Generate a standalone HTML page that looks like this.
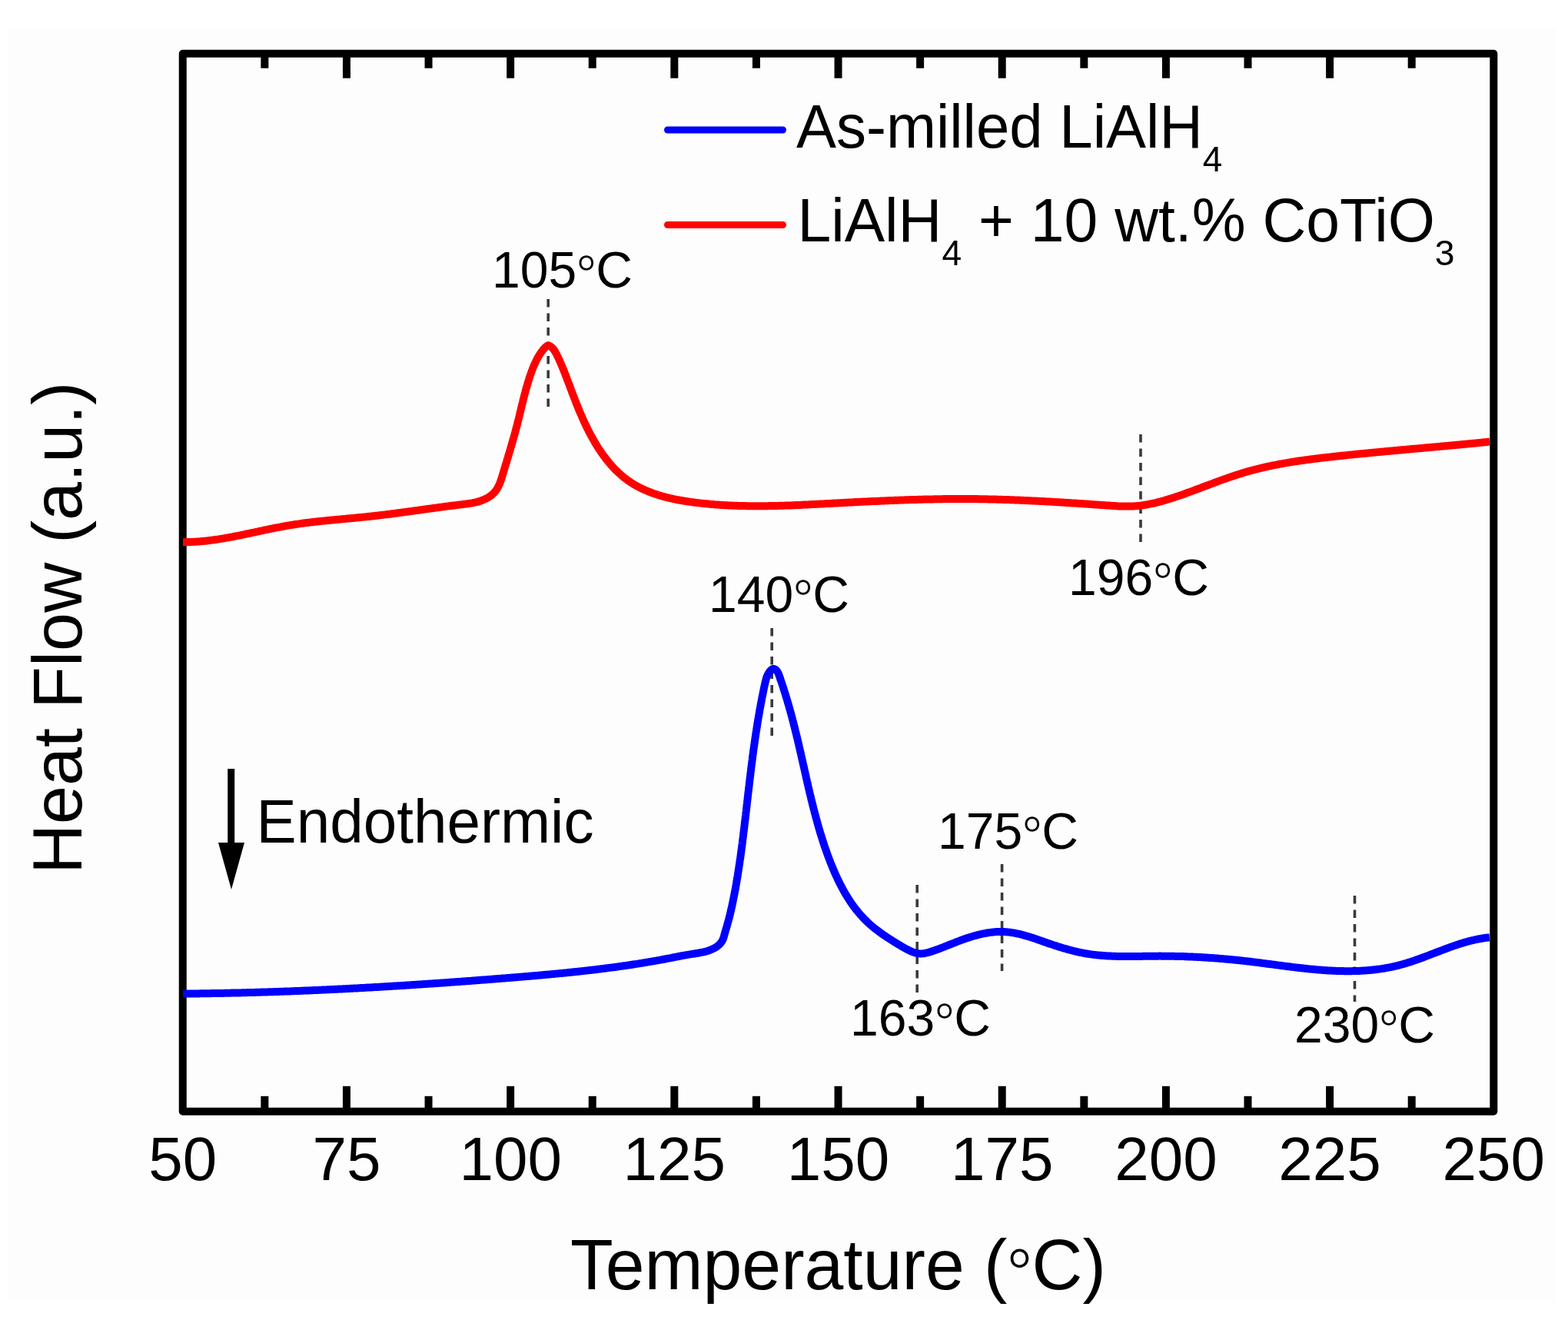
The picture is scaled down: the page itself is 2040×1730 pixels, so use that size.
<!DOCTYPE html>
<html><head><meta charset="utf-8"><title>DSC curves</title><style>
html,body{margin:0;padding:0;background:#fff;}
body{width:2040px;height:1730px;overflow:hidden;}
svg{display:block;}
text{font-family:"Liberation Sans",Arial,sans-serif;fill:#000;}
.dg{font-family:"Noto Sans CJK JP","Liberation Sans",sans-serif;font-weight:300;}
</style></head><body>
<svg width="2040" height="1730" viewBox="0 0 2040 1730" xmlns="http://www.w3.org/2000/svg">
<rect x="0" y="0" width="2040" height="1730" fill="#ffffff"/>
<rect x="11" y="37" width="2013" height="1655" fill="#fdfdfd"/>
<g stroke="#000" stroke-width="10" fill="none">
<rect x="237.75" y="69.7" width="1705.55" height="1376.10" stroke-linejoin="round"/>
<line x1="344.35" y1="69.7" x2="344.35" y2="88.7"/><line x1="344.35" y1="1445.8" x2="344.35" y2="1425.8"/><line x1="450.94" y1="69.7" x2="450.94" y2="101.7"/><line x1="450.94" y1="1445.8" x2="450.94" y2="1412.8"/><line x1="557.54" y1="69.7" x2="557.54" y2="88.7"/><line x1="557.54" y1="1445.8" x2="557.54" y2="1425.8"/><line x1="664.14" y1="69.7" x2="664.14" y2="101.7"/><line x1="664.14" y1="1445.8" x2="664.14" y2="1412.8"/><line x1="770.73" y1="69.7" x2="770.73" y2="88.7"/><line x1="770.73" y1="1445.8" x2="770.73" y2="1425.8"/><line x1="877.33" y1="69.7" x2="877.33" y2="101.7"/><line x1="877.33" y1="1445.8" x2="877.33" y2="1412.8"/><line x1="983.93" y1="69.7" x2="983.93" y2="88.7"/><line x1="983.93" y1="1445.8" x2="983.93" y2="1425.8"/><line x1="1090.53" y1="69.7" x2="1090.53" y2="101.7"/><line x1="1090.53" y1="1445.8" x2="1090.53" y2="1412.8"/><line x1="1197.12" y1="69.7" x2="1197.12" y2="88.7"/><line x1="1197.12" y1="1445.8" x2="1197.12" y2="1425.8"/><line x1="1303.72" y1="69.7" x2="1303.72" y2="101.7"/><line x1="1303.72" y1="1445.8" x2="1303.72" y2="1412.8"/><line x1="1410.32" y1="69.7" x2="1410.32" y2="88.7"/><line x1="1410.32" y1="1445.8" x2="1410.32" y2="1425.8"/><line x1="1516.91" y1="69.7" x2="1516.91" y2="101.7"/><line x1="1516.91" y1="1445.8" x2="1516.91" y2="1412.8"/><line x1="1623.51" y1="69.7" x2="1623.51" y2="88.7"/><line x1="1623.51" y1="1445.8" x2="1623.51" y2="1425.8"/><line x1="1730.11" y1="69.7" x2="1730.11" y2="101.7"/><line x1="1730.11" y1="1445.8" x2="1730.11" y2="1412.8"/><line x1="1836.70" y1="69.7" x2="1836.70" y2="88.7"/><line x1="1836.70" y1="1445.8" x2="1836.70" y2="1425.8"/>
</g>
<g stroke="#3a3a3a" stroke-width="3.6" stroke-dasharray="10.5 8" fill="none"><line x1="713.2" y1="389.0" x2="713.2" y2="529.0"/><line x1="1484.0" y1="565.0" x2="1484.0" y2="705.0"/><line x1="1004.2" y1="817.0" x2="1004.2" y2="957.0"/><line x1="1193.2" y1="1151.0" x2="1193.2" y2="1291.0"/><line x1="1303.6" y1="1124.0" x2="1303.6" y2="1263.0"/><line x1="1762.5" y1="1165.0" x2="1762.5" y2="1303.0"/></g>
<path d="M238.0,705.2 239.5,705.2 241.0,705.2 242.5,705.1 244.0,705.1 245.5,705.1 247.0,705.0 248.5,705.0 250.0,704.9 251.5,704.8 253.0,704.8 254.5,704.7 256.0,704.6 257.5,704.5 259.0,704.4 260.5,704.2 262.0,704.1 263.5,704.0 265.0,703.8 266.5,703.7 268.0,703.5 269.5,703.4 270.9,703.2 272.4,703.0 273.9,702.8 275.4,702.6 276.9,702.4 278.4,702.2 279.9,702.0 281.4,701.8 282.9,701.6 284.3,701.4 285.8,701.1 287.3,700.9 288.8,700.6 290.3,700.4 291.8,700.2 293.2,699.9 294.7,699.6 296.2,699.4 297.7,699.1 299.2,698.8 300.6,698.6 302.1,698.3 303.6,698.0 305.1,697.7 306.5,697.4 308.0,697.1 309.5,696.9 311.0,696.6 312.4,696.3 313.9,696.0 315.4,695.7 316.8,695.4 318.3,695.1 319.8,694.7 321.2,694.4 322.7,694.1 324.2,693.8 325.7,693.5 327.1,693.2 328.6,692.9 330.1,692.6 331.5,692.3 333.0,691.9 334.5,691.6 335.9,691.3 337.4,691.0 338.9,690.7 340.4,690.4 341.8,690.1 343.3,689.7 344.8,689.4 346.2,689.1 347.7,688.8 349.2,688.5 350.6,688.2 352.1,687.9 353.6,687.6 355.1,687.3 356.5,687.0 358.0,686.7 359.5,686.4 361.0,686.1 362.4,685.9 363.9,685.6 365.4,685.3 366.9,685.0 368.3,684.7 369.8,684.5 371.3,684.2 372.8,683.9 374.2,683.7 375.7,683.4 377.2,683.2 378.7,682.9 380.2,682.7 381.7,682.5 383.1,682.2 384.6,682.0 386.1,681.8 387.6,681.6 389.1,681.4 390.6,681.1 392.1,680.9 393.6,680.7 395.0,680.5 396.5,680.3 398.0,680.1 399.5,680.0 401.0,679.8 402.5,679.6 404.0,679.4 405.5,679.2 407.0,679.0 408.5,678.9 410.0,678.7 411.4,678.5 412.9,678.4 414.4,678.2 415.9,678.0 417.4,677.9 418.9,677.7 420.4,677.6 421.9,677.4 423.4,677.3 424.9,677.1 426.4,677.0 427.9,676.8 429.4,676.7 430.9,676.5 432.4,676.4 433.9,676.3 435.4,676.1 436.9,676.0 438.3,675.8 439.8,675.7 441.3,675.6 442.8,675.4 444.3,675.3 445.8,675.1 447.3,675.0 448.8,674.9 450.3,674.7 451.8,674.6 453.3,674.5 454.8,674.3 456.3,674.2 457.8,674.0 459.3,673.9 460.8,673.8 462.3,673.6 463.8,673.5 465.3,673.3 466.8,673.2 468.3,673.0 469.8,672.9 471.3,672.7 472.7,672.6 474.2,672.4 475.7,672.3 477.2,672.1 478.7,672.0 480.2,671.8 481.7,671.7 483.2,671.5 484.7,671.3 486.2,671.2 487.7,671.0 489.2,670.8 490.7,670.7 492.2,670.5 493.7,670.3 495.1,670.1 496.6,670.0 498.1,669.8 499.6,669.6 501.1,669.4 502.6,669.2 504.1,669.0 505.6,668.9 507.1,668.7 508.6,668.5 510.1,668.3 511.5,668.1 513.0,667.9 514.5,667.7 516.0,667.5 517.5,667.3 519.0,667.1 520.5,666.9 522.0,666.7 523.5,666.5 525.0,666.3 526.4,666.1 527.9,665.9 529.4,665.7 530.9,665.5 532.4,665.3 533.9,665.1 535.4,664.9 536.9,664.7 538.3,664.5 539.8,664.3 541.3,664.1 542.8,663.9 544.3,663.7 545.8,663.5 547.3,663.3 548.8,663.1 550.3,662.8 551.7,662.6 553.2,662.4 554.7,662.2 556.2,662.0 557.7,661.8 559.2,661.6 560.7,661.4 562.2,661.2 563.6,661.0 565.1,660.8 566.6,660.6 568.1,660.4 569.6,660.2 571.1,660.0 572.6,659.8 574.1,659.6 575.6,659.4 577.0,659.2 578.5,659.0 580.0,658.8 581.5,658.6 583.0,658.4 584.5,658.2 586.0,658.0 587.5,657.8 589.0,657.7 590.5,657.5 591.9,657.3 593.4,657.1 594.9,656.9 596.4,656.7 597.9,656.5 599.4,656.4 600.9,656.2 602.4,656.0 603.9,655.8 605.4,655.6 606.9,655.5 608.3,655.3 609.8,655.0 611.3,654.8 612.8,654.6 614.3,654.3 615.8,654.0 617.2,653.7 618.7,653.4 620.2,653.0 621.6,652.7 623.0,652.2 624.5,651.8 625.9,651.3 627.3,650.8 628.7,650.2 630.1,649.6 631.4,649.0 632.8,648.3 634.1,647.6 635.4,646.9 636.7,646.1 637.9,645.2 639.1,644.3 640.3,643.4 641.4,642.4 642.5,641.3 643.5,640.2 644.5,639.0 645.4,637.8 646.2,636.6 647.0,635.3 647.7,634.0 648.4,632.7 649.1,631.3 649.7,630.0 650.3,628.6 650.8,627.2 651.3,625.8 651.8,624.3 652.3,622.9 652.8,621.5 653.2,620.1 653.6,618.6 654.1,617.2 654.5,615.7 654.9,614.3 655.4,612.9 655.8,611.4 656.2,610.0 656.7,608.5 657.1,607.1 657.5,605.7 658.0,604.2 658.4,602.8 658.9,601.4 659.3,599.9 659.7,598.5 660.1,597.0 660.6,595.6 661.0,594.2 661.4,592.7 661.9,591.3 662.3,589.8 662.7,588.4 663.2,587.0 663.6,585.5 664.0,584.1 664.4,582.6 664.8,581.2 665.3,579.8 665.7,578.3 666.1,576.9 666.5,575.4 666.9,574.0 667.3,572.5 667.7,571.1 668.2,569.6 668.6,568.2 669.0,566.8 669.4,565.3 669.8,563.9 670.2,562.4 670.6,561.0 670.9,559.5 671.3,558.1 671.7,556.6 672.1,555.1 672.5,553.7 672.9,552.2 673.2,550.8 673.6,549.3 674.0,547.9 674.3,546.4 674.7,545.0 675.1,543.5 675.4,542.0 675.8,540.6 676.1,539.1 676.5,537.7 676.8,536.2 677.2,534.7 677.5,533.3 677.9,531.8 678.2,530.4 678.6,528.9 678.9,527.4 679.3,526.0 679.7,524.5 680.0,523.1 680.4,521.6 680.7,520.1 681.1,518.7 681.5,517.2 681.8,515.8 682.2,514.3 682.6,512.9 683.0,511.4 683.4,510.0 683.7,508.5 684.1,507.1 684.5,505.6 684.9,504.2 685.4,502.7 685.8,501.3 686.2,499.8 686.6,498.4 687.1,497.0 687.5,495.5 688.0,494.1 688.4,492.7 688.9,491.2 689.3,489.8 689.8,488.4 690.3,487.0 690.8,485.5 691.3,484.1 691.8,482.7 692.4,481.3 692.9,479.9 693.4,478.5 694.0,477.1 694.6,475.7 695.2,474.3 695.8,473.0 696.4,471.6 697.1,470.3 697.7,468.9 698.4,467.6 699.1,466.2 699.8,464.9 700.6,463.6 701.4,462.3 702.2,461.1 703.0,459.8 703.8,458.6 704.7,457.4 705.6,456.2 706.6,455.0 707.5,453.8 708.5,452.7 709.6,451.6 710.7,450.6 711.9,449.8 713.4,449.4 714.8,449.8 716.1,450.5 717.3,451.4 718.4,452.4 719.5,453.5 720.4,454.7 721.3,455.9 722.1,457.2 722.8,458.5 723.6,459.8 724.3,461.1 724.9,462.5 725.6,463.8 726.3,465.2 726.9,466.5 727.5,467.9 728.1,469.2 728.7,470.6 729.3,472.0 729.9,473.4 730.5,474.8 731.1,476.1 731.7,477.5 732.2,478.9 732.8,480.3 733.4,481.7 733.9,483.1 734.5,484.5 735.0,485.9 735.6,487.3 736.1,488.7 736.6,490.1 737.2,491.5 737.7,492.9 738.2,494.3 738.8,495.7 739.3,497.1 739.8,498.5 740.4,499.9 740.9,501.3 741.4,502.8 742.0,504.2 742.5,505.6 743.0,507.0 743.6,508.4 744.1,509.8 744.6,511.2 745.2,512.6 745.7,514.0 746.2,515.4 746.8,516.8 747.3,518.2 747.9,519.6 748.4,521.0 748.9,522.4 749.5,523.8 750.0,525.2 750.6,526.6 751.2,528.0 751.7,529.4 752.3,530.8 752.9,532.2 753.4,533.6 754.0,534.9 754.6,536.3 755.2,537.7 755.8,539.1 756.4,540.5 757.0,541.8 757.6,543.2 758.2,544.6 758.8,546.0 759.4,547.3 760.0,548.7 760.7,550.1 761.3,551.4 762.0,552.8 762.6,554.1 763.3,555.5 763.9,556.8 764.6,558.2 765.3,559.5 765.9,560.9 766.6,562.2 767.3,563.5 768.0,564.8 768.7,566.2 769.5,567.5 770.2,568.8 770.9,570.1 771.7,571.4 772.4,572.7 773.2,574.0 773.9,575.3 774.7,576.6 775.5,577.9 776.2,579.2 777.0,580.5 777.8,581.7 778.6,583.0 779.5,584.3 780.3,585.5 781.1,586.8 782.0,588.0 782.8,589.2 783.7,590.5 784.6,591.7 785.5,592.9 786.3,594.1 787.2,595.3 788.2,596.5 789.1,597.7 790.0,598.9 791.0,600.0 791.9,601.2 792.9,602.4 793.8,603.5 794.8,604.6 795.8,605.8 796.8,606.9 797.8,608.0 798.9,609.1 799.9,610.2 801.0,611.2 802.0,612.3 803.1,613.3 804.2,614.4 805.3,615.4 806.4,616.4 807.5,617.4 808.6,618.4 809.8,619.4 810.9,620.3 812.1,621.3 813.3,622.2 814.5,623.1 815.7,624.0 816.9,624.9 818.1,625.8 819.4,626.6 820.6,627.5 821.9,628.3 823.2,629.1 824.4,629.9 825.7,630.6 827.0,631.4 828.3,632.1 829.7,632.8 831.0,633.5 832.3,634.2 833.7,634.9 835.0,635.6 836.4,636.2 837.7,636.8 839.1,637.4 840.5,638.0 841.9,638.6 843.3,639.2 844.7,639.8 846.1,640.3 847.5,640.8 848.9,641.4 850.3,641.9 851.7,642.4 853.1,642.8 854.6,643.3 856.0,643.8 857.4,644.2 858.9,644.6 860.3,645.1 861.7,645.5 863.2,645.9 864.6,646.3 866.1,646.7 867.5,647.0 869.0,647.4 870.5,647.7 871.9,648.1 873.4,648.4 874.9,648.7 876.3,649.1 877.8,649.4 879.3,649.7 880.7,650.0 882.2,650.2 883.7,650.5 885.2,650.8 886.7,651.0 888.1,651.3 889.6,651.5 891.1,651.8 892.6,652.0 894.1,652.3 895.6,652.5 897.0,652.7 898.5,652.9 900.0,653.1 901.5,653.3 903.0,653.5 904.5,653.7 906.0,653.9 907.5,654.1 909.0,654.2 910.5,654.4 911.9,654.6 913.4,654.7 914.9,654.9 916.4,655.0 917.9,655.2 919.4,655.3 920.9,655.5 922.4,655.6 923.9,655.8 925.4,655.9 926.9,656.0 928.4,656.1 929.9,656.3 931.4,656.4 932.9,656.5 934.4,656.6 935.9,656.7 937.4,656.8 938.9,656.9 940.4,657.0 941.9,657.1 943.4,657.2 944.9,657.2 946.4,657.3 947.9,657.4 949.4,657.5 950.9,657.5 952.4,657.6 953.9,657.7 955.4,657.7 956.9,657.8 958.4,657.8 959.9,657.9 961.4,657.9 962.9,658.0 964.4,658.0 965.9,658.1 967.4,658.1 968.9,658.1 970.4,658.1 971.9,658.2 973.4,658.2 974.9,658.2 976.4,658.2 977.9,658.2 979.4,658.3 980.9,658.3 982.4,658.3 983.9,658.3 985.4,658.3 986.9,658.3 988.4,658.3 989.9,658.3 991.4,658.2 992.9,658.2 994.4,658.2 995.9,658.2 997.4,658.2 998.9,658.2 1000.4,658.1 1001.9,658.1 1003.4,658.1 1005.0,658.1 1006.5,658.0 1008.0,658.0 1009.5,658.0 1011.0,657.9 1012.5,657.9 1014.0,657.8 1015.5,657.8 1017.0,657.8 1018.5,657.7 1020.0,657.7 1021.5,657.6 1023.0,657.6 1024.5,657.5 1026.0,657.5 1027.5,657.4 1029.0,657.4 1030.5,657.3 1032.0,657.2 1033.5,657.2 1035.0,657.1 1036.5,657.0 1038.0,657.0 1039.5,656.9 1041.0,656.9 1042.5,656.8 1044.0,656.7 1045.5,656.6 1047.0,656.6 1048.5,656.5 1050.0,656.4 1051.5,656.4 1053.0,656.3 1054.5,656.2 1056.0,656.1 1057.5,656.1 1059.0,656.0 1060.5,655.9 1062.0,655.8 1063.5,655.8 1065.0,655.7 1066.5,655.6 1068.0,655.5 1069.5,655.4 1071.0,655.4 1072.5,655.3 1074.0,655.2 1075.5,655.1 1077.0,655.0 1078.5,655.0 1080.0,654.9 1081.5,654.8 1083.0,654.7 1084.5,654.6 1086.0,654.6 1087.5,654.5 1089.0,654.4 1090.5,654.3 1092.0,654.2 1093.5,654.2 1095.0,654.1 1096.5,654.0 1098.0,653.9 1099.5,653.8 1101.0,653.8 1102.5,653.7 1104.0,653.6 1105.5,653.5 1107.0,653.5 1108.5,653.4 1110.0,653.3 1111.5,653.2 1113.0,653.1 1114.5,653.1 1116.0,653.0 1117.5,652.9 1119.0,652.8 1120.5,652.8 1122.0,652.7 1123.5,652.6 1125.0,652.6 1126.5,652.5 1128.0,652.4 1129.5,652.3 1131.0,652.3 1132.5,652.2 1134.0,652.1 1135.5,652.1 1137.0,652.0 1138.5,651.9 1140.0,651.9 1141.5,651.8 1143.0,651.7 1144.5,651.7 1146.0,651.6 1147.5,651.5 1149.0,651.5 1150.5,651.4 1152.0,651.3 1153.5,651.3 1155.0,651.2 1156.5,651.1 1158.0,651.1 1159.5,651.0 1161.0,651.0 1162.5,650.9 1164.0,650.8 1165.5,650.8 1167.0,650.7 1168.5,650.7 1170.0,650.6 1171.5,650.6 1173.0,650.5 1174.5,650.5 1176.0,650.4 1177.5,650.3 1179.0,650.3 1180.5,650.2 1182.0,650.2 1183.5,650.1 1185.0,650.1 1186.5,650.1 1188.0,650.0 1189.5,650.0 1191.0,649.9 1192.5,649.9 1194.1,649.8 1195.6,649.8 1197.1,649.7 1198.6,649.7 1200.1,649.7 1201.6,649.6 1203.1,649.6 1204.6,649.6 1206.1,649.5 1207.6,649.5 1209.1,649.5 1210.6,649.4 1212.1,649.4 1213.6,649.4 1215.1,649.3 1216.6,649.3 1218.1,649.3 1219.6,649.3 1221.1,649.2 1222.6,649.2 1224.1,649.2 1225.6,649.2 1227.1,649.1 1228.6,649.1 1230.1,649.1 1231.6,649.1 1233.1,649.1 1234.6,649.1 1236.1,649.1 1237.6,649.0 1239.1,649.0 1240.6,649.0 1242.1,649.0 1243.6,649.0 1245.1,649.0 1246.6,649.0 1248.1,649.0 1249.6,649.0 1251.1,649.0 1252.6,649.0 1254.1,649.0 1255.6,649.0 1257.1,649.0 1258.6,649.0 1260.1,649.0 1261.6,649.0 1263.1,649.0 1264.6,649.0 1266.2,649.1 1267.7,649.1 1269.2,649.1 1270.7,649.1 1272.2,649.1 1273.7,649.2 1275.2,649.2 1276.7,649.2 1278.2,649.2 1279.7,649.2 1281.2,649.3 1282.7,649.3 1284.2,649.3 1285.7,649.4 1287.2,649.4 1288.7,649.4 1290.2,649.5 1291.7,649.5 1293.2,649.5 1294.7,649.6 1296.2,649.6 1297.7,649.7 1299.2,649.7 1300.7,649.7 1302.2,649.8 1303.7,649.8 1305.2,649.9 1306.7,649.9 1308.2,650.0 1309.7,650.0 1311.2,650.1 1312.7,650.1 1314.2,650.2 1315.7,650.2 1317.2,650.3 1318.7,650.3 1320.2,650.4 1321.7,650.5 1323.2,650.5 1324.7,650.6 1326.2,650.6 1327.7,650.7 1329.2,650.8 1330.7,650.8 1332.2,650.9 1333.7,651.0 1335.2,651.0 1336.7,651.1 1338.2,651.2 1339.7,651.2 1341.2,651.3 1342.7,651.4 1344.2,651.5 1345.7,651.5 1347.2,651.6 1348.7,651.7 1350.2,651.7 1351.7,651.8 1353.2,651.9 1354.7,652.0 1356.2,652.1 1357.7,652.1 1359.2,652.2 1360.7,652.3 1362.2,652.4 1363.7,652.5 1365.2,652.6 1366.7,652.6 1368.2,652.7 1369.7,652.8 1371.2,652.9 1372.7,653.0 1374.2,653.1 1375.7,653.2 1377.2,653.2 1378.7,653.3 1380.2,653.4 1381.7,653.5 1383.2,653.6 1384.7,653.7 1386.2,653.8 1387.7,653.9 1389.2,654.0 1390.7,654.1 1392.2,654.2 1393.7,654.3 1395.2,654.4 1396.7,654.5 1398.2,654.5 1399.7,654.6 1401.2,654.7 1402.7,654.8 1404.2,654.9 1405.7,655.0 1407.2,655.1 1408.7,655.2 1410.2,655.3 1411.7,655.4 1413.2,655.5 1414.7,655.6 1416.2,655.7 1417.7,655.8 1419.2,655.9 1420.7,656.1 1422.2,656.2 1423.7,656.3 1425.2,656.4 1426.7,656.5 1428.2,656.6 1429.7,656.7 1431.2,656.8 1432.7,656.9 1434.2,657.0 1435.7,657.1 1437.2,657.2 1438.7,657.3 1440.2,657.4 1441.7,657.5 1443.2,657.6 1444.7,657.7 1446.2,657.8 1447.7,657.9 1449.2,658.0 1450.7,658.1 1452.2,658.2 1453.7,658.3 1455.2,658.4 1456.7,658.4 1458.2,658.5 1459.7,658.5 1461.2,658.6 1462.7,658.6 1464.2,658.6 1465.7,658.6 1467.2,658.6 1468.7,658.6 1470.2,658.6 1471.7,658.6 1473.2,658.5 1474.7,658.4 1476.2,658.3 1477.7,658.2 1479.2,658.1 1480.7,657.9 1482.2,657.8 1483.7,657.6 1485.2,657.4 1486.7,657.2 1488.1,657.0 1489.6,656.8 1491.1,656.5 1492.6,656.3 1494.1,656.0 1495.5,655.7 1497.0,655.4 1498.5,655.1 1500.0,654.8 1501.4,654.5 1502.9,654.1 1504.3,653.8 1505.8,653.4 1507.3,653.0 1508.7,652.7 1510.2,652.3 1511.6,651.9 1513.1,651.5 1514.5,651.1 1515.9,650.6 1517.4,650.2 1518.8,649.8 1520.3,649.3 1521.7,648.9 1523.1,648.4 1524.6,648.0 1526.0,647.5 1527.4,647.1 1528.8,646.6 1530.3,646.1 1531.7,645.6 1533.1,645.1 1534.5,644.7 1535.9,644.2 1537.4,643.7 1538.8,643.2 1540.2,642.7 1541.6,642.2 1543.0,641.7 1544.4,641.1 1545.9,640.6 1547.3,640.1 1548.7,639.6 1550.1,639.1 1551.5,638.6 1552.9,638.1 1554.3,637.5 1555.7,637.0 1557.1,636.5 1558.5,636.0 1559.9,635.4 1561.4,634.9 1562.8,634.4 1564.2,633.8 1565.6,633.3 1567.0,632.8 1568.4,632.3 1569.8,631.7 1571.2,631.2 1572.6,630.7 1574.0,630.1 1575.4,629.6 1576.8,629.1 1578.2,628.6 1579.6,628.0 1581.0,627.5 1582.5,627.0 1583.9,626.5 1585.3,625.9 1586.7,625.4 1588.1,624.9 1589.5,624.4 1590.9,623.9 1592.3,623.4 1593.7,622.9 1595.2,622.4 1596.6,621.9 1598.0,621.4 1599.4,620.9 1600.8,620.4 1602.3,619.9 1603.7,619.4 1605.1,619.0 1606.5,618.5 1608.0,618.0 1609.4,617.6 1610.8,617.1 1612.3,616.6 1613.7,616.2 1615.1,615.7 1616.6,615.3 1618.0,614.9 1619.4,614.4 1620.9,614.0 1622.3,613.6 1623.8,613.2 1625.2,612.8 1626.7,612.4 1628.1,612.0 1629.6,611.6 1631.0,611.2 1632.5,610.8 1633.9,610.5 1635.4,610.1 1636.8,609.7 1638.3,609.4 1639.8,609.0 1641.2,608.7 1642.7,608.3 1644.1,608.0 1645.6,607.7 1647.1,607.3 1648.5,607.0 1650.0,606.7 1651.5,606.4 1652.9,606.1 1654.4,605.7 1655.9,605.4 1657.4,605.1 1658.8,604.9 1660.3,604.6 1661.8,604.3 1663.3,604.0 1664.7,603.7 1666.2,603.4 1667.7,603.2 1669.2,602.9 1670.6,602.6 1672.1,602.4 1673.6,602.1 1675.1,601.9 1676.6,601.6 1678.0,601.4 1679.5,601.1 1681.0,600.9 1682.5,600.7 1684.0,600.4 1685.5,600.2 1687.0,600.0 1688.4,599.8 1689.9,599.5 1691.4,599.3 1692.9,599.1 1694.4,598.9 1695.9,598.7 1697.4,598.5 1698.8,598.3 1700.3,598.1 1701.8,597.9 1703.3,597.7 1704.8,597.5 1706.3,597.3 1707.8,597.1 1709.3,596.9 1710.8,596.7 1712.3,596.5 1713.7,596.4 1715.2,596.2 1716.7,596.0 1718.2,595.8 1719.7,595.6 1721.2,595.5 1722.7,595.3 1724.2,595.1 1725.7,595.0 1727.2,594.8 1728.7,594.6 1730.2,594.4 1731.7,594.3 1733.1,594.1 1734.6,594.0 1736.1,593.8 1737.6,593.6 1739.1,593.5 1740.6,593.3 1742.1,593.2 1743.6,593.0 1745.1,592.8 1746.6,592.7 1748.1,592.5 1749.6,592.4 1751.1,592.2 1752.6,592.1 1754.1,591.9 1755.6,591.7 1757.1,591.6 1758.5,591.4 1760.0,591.3 1761.5,591.1 1763.0,591.0 1764.5,590.8 1766.0,590.7 1767.5,590.5 1769.0,590.4 1770.5,590.2 1772.0,590.1 1773.5,589.9 1775.0,589.8 1776.5,589.7 1778.0,589.5 1779.5,589.4 1781.0,589.2 1782.5,589.1 1784.0,588.9 1785.5,588.8 1787.0,588.6 1788.4,588.5 1789.9,588.4 1791.4,588.2 1792.9,588.1 1794.4,587.9 1795.9,587.8 1797.4,587.7 1798.9,587.5 1800.4,587.4 1801.9,587.2 1803.4,587.1 1804.9,587.0 1806.4,586.8 1807.9,586.7 1809.4,586.5 1810.9,586.4 1812.4,586.3 1813.9,586.1 1815.4,586.0 1816.9,585.9 1818.4,585.7 1819.9,585.6 1821.4,585.5 1822.9,585.3 1824.3,585.2 1825.8,585.0 1827.3,584.9 1828.8,584.8 1830.3,584.6 1831.8,584.5 1833.3,584.4 1834.8,584.2 1836.3,584.1 1837.8,584.0 1839.3,583.8 1840.8,583.7 1842.3,583.6 1843.8,583.4 1845.3,583.3 1846.8,583.2 1848.3,583.0 1849.8,582.9 1851.3,582.8 1852.8,582.6 1854.3,582.5 1855.8,582.3 1857.3,582.2 1858.8,582.1 1860.3,581.9 1861.8,581.8 1863.2,581.7 1864.7,581.5 1866.2,581.4 1867.7,581.3 1869.2,581.1 1870.7,581.0 1872.2,580.9 1873.7,580.7 1875.2,580.6 1876.7,580.5 1878.2,580.3 1879.7,580.2 1881.2,580.0 1882.7,579.9 1884.2,579.8 1885.7,579.6 1887.2,579.5 1888.7,579.4 1890.2,579.2 1891.7,579.1 1893.2,578.9 1894.7,578.8 1896.2,578.7 1897.7,578.5 1899.2,578.4 1900.6,578.2 1902.1,578.1 1903.6,578.0 1905.1,577.8 1906.6,577.7 1908.1,577.5 1909.6,577.4 1911.1,577.2 1912.6,577.1 1914.1,577.0 1915.6,576.8 1917.1,576.7 1918.6,576.5 1920.1,576.4 1921.6,576.2 1923.1,576.1 1924.6,575.9 1926.1,575.8 1927.6,575.6 1929.1,575.5 1930.6,575.3 1932.0,575.2 1933.5,575.0 1935.0,574.9 1936.5,574.7 1938.0,574.6" stroke="#ff0000" stroke-width="10" fill="none" stroke-linejoin="round"/>
<path d="M238.0,1292.6 239.5,1292.6 241.0,1292.5 242.5,1292.5 244.0,1292.5 245.5,1292.5 247.0,1292.5 248.5,1292.5 250.0,1292.5 251.5,1292.4 253.0,1292.4 254.5,1292.4 256.0,1292.4 257.5,1292.4 259.0,1292.4 260.5,1292.3 262.0,1292.3 263.5,1292.3 265.0,1292.3 266.5,1292.3 268.0,1292.2 269.5,1292.2 271.0,1292.2 272.5,1292.2 274.0,1292.2 275.5,1292.1 277.0,1292.1 278.5,1292.1 280.0,1292.1 281.5,1292.0 283.0,1292.0 284.5,1292.0 286.0,1291.9 287.5,1291.9 289.0,1291.9 290.5,1291.9 292.1,1291.8 293.6,1291.8 295.1,1291.8 296.6,1291.7 298.1,1291.7 299.6,1291.7 301.1,1291.6 302.6,1291.6 304.1,1291.6 305.6,1291.5 307.1,1291.5 308.6,1291.5 310.1,1291.4 311.6,1291.4 313.1,1291.4 314.6,1291.3 316.1,1291.3 317.6,1291.3 319.1,1291.2 320.6,1291.2 322.1,1291.1 323.6,1291.1 325.1,1291.1 326.6,1291.0 328.1,1291.0 329.6,1290.9 331.1,1290.9 332.6,1290.8 334.1,1290.8 335.6,1290.8 337.1,1290.7 338.6,1290.7 340.1,1290.6 341.6,1290.6 343.1,1290.5 344.6,1290.5 346.1,1290.4 347.6,1290.4 349.1,1290.3 350.6,1290.3 352.1,1290.3 353.6,1290.2 355.1,1290.2 356.6,1290.1 358.1,1290.1 359.6,1290.0 361.1,1289.9 362.6,1289.9 364.1,1289.8 365.6,1289.8 367.1,1289.7 368.6,1289.7 370.1,1289.6 371.6,1289.6 373.1,1289.5 374.6,1289.5 376.1,1289.4 377.6,1289.4 379.1,1289.3 380.6,1289.2 382.1,1289.2 383.6,1289.1 385.1,1289.1 386.6,1289.0 388.1,1288.9 389.6,1288.9 391.1,1288.8 392.6,1288.8 394.1,1288.7 395.6,1288.6 397.1,1288.6 398.6,1288.5 400.1,1288.5 401.6,1288.4 403.1,1288.3 404.6,1288.3 406.1,1288.2 407.6,1288.1 409.1,1288.1 410.6,1288.0 412.1,1287.9 413.6,1287.9 415.1,1287.8 416.6,1287.7 418.1,1287.7 419.6,1287.6 421.1,1287.5 422.6,1287.5 424.1,1287.4 425.6,1287.3 427.1,1287.3 428.6,1287.2 430.1,1287.1 431.6,1287.0 433.1,1287.0 434.6,1286.9 436.1,1286.8 437.6,1286.8 439.1,1286.7 440.6,1286.6 442.1,1286.5 443.6,1286.5 445.1,1286.4 446.6,1286.3 448.1,1286.2 449.6,1286.2 451.1,1286.1 452.6,1286.0 454.1,1285.9 455.6,1285.8 457.1,1285.8 458.6,1285.7 460.1,1285.6 461.6,1285.5 463.1,1285.5 464.6,1285.4 466.1,1285.3 467.6,1285.2 469.1,1285.1 470.6,1285.0 472.1,1285.0 473.6,1284.9 475.1,1284.8 476.6,1284.7 478.1,1284.6 479.6,1284.5 481.1,1284.5 482.6,1284.4 484.1,1284.3 485.6,1284.2 487.1,1284.1 488.6,1284.0 490.1,1284.0 491.6,1283.9 493.1,1283.8 494.6,1283.7 496.1,1283.6 497.6,1283.5 499.1,1283.4 500.6,1283.3 502.1,1283.2 503.6,1283.2 505.1,1283.1 506.6,1283.0 508.1,1282.9 509.6,1282.8 511.1,1282.7 512.6,1282.6 514.1,1282.5 515.6,1282.4 517.1,1282.3 518.6,1282.2 520.1,1282.2 521.6,1282.1 523.1,1282.0 524.6,1281.9 526.1,1281.8 527.6,1281.7 529.1,1281.6 530.6,1281.5 532.1,1281.4 533.6,1281.3 535.1,1281.2 536.6,1281.1 538.1,1281.0 539.6,1280.9 541.1,1280.8 542.6,1280.7 544.1,1280.6 545.6,1280.5 547.1,1280.4 548.6,1280.3 550.1,1280.2 551.6,1280.1 553.1,1280.0 554.6,1279.9 556.1,1279.8 557.6,1279.7 559.1,1279.6 560.6,1279.5 562.1,1279.4 563.6,1279.3 565.1,1279.2 566.6,1279.1 568.1,1279.0 569.6,1278.9 571.1,1278.8 572.6,1278.7 574.1,1278.6 575.6,1278.5 577.1,1278.4 578.6,1278.3 580.1,1278.2 581.6,1278.1 583.1,1277.9 584.6,1277.8 586.1,1277.7 587.6,1277.6 589.1,1277.5 590.6,1277.4 592.1,1277.3 593.6,1277.2 595.1,1277.1 596.6,1277.0 598.1,1276.9 599.5,1276.8 601.0,1276.6 602.5,1276.5 604.0,1276.4 605.5,1276.3 607.0,1276.2 608.5,1276.1 610.0,1276.0 611.5,1275.9 613.0,1275.8 614.5,1275.6 616.0,1275.5 617.5,1275.4 619.0,1275.3 620.5,1275.2 622.0,1275.1 623.5,1275.0 625.0,1274.8 626.5,1274.7 628.0,1274.6 629.5,1274.5 631.0,1274.4 632.5,1274.3 634.0,1274.2 635.5,1274.0 637.0,1273.9 638.5,1273.8 640.0,1273.7 641.5,1273.6 643.0,1273.5 644.5,1273.3 646.0,1273.2 647.5,1273.1 649.0,1273.0 650.5,1272.9 652.0,1272.7 653.5,1272.6 655.0,1272.5 656.5,1272.4 658.0,1272.3 659.4,1272.1 660.9,1272.0 662.4,1271.9 663.9,1271.8 665.4,1271.7 666.9,1271.5 668.4,1271.4 669.9,1271.3 671.4,1271.2 672.9,1271.1 674.4,1270.9 675.9,1270.8 677.4,1270.7 678.9,1270.6 680.4,1270.4 681.9,1270.3 683.4,1270.2 684.9,1270.1 686.4,1269.9 687.9,1269.8 689.4,1269.7 690.9,1269.5 692.4,1269.4 693.9,1269.3 695.4,1269.2 696.9,1269.0 698.4,1268.9 699.9,1268.8 701.4,1268.6 702.9,1268.5 704.4,1268.4 705.8,1268.2 707.3,1268.1 708.8,1268.0 710.3,1267.8 711.8,1267.7 713.3,1267.6 714.8,1267.4 716.3,1267.3 717.8,1267.1 719.3,1267.0 720.8,1266.9 722.3,1266.7 723.8,1266.6 725.3,1266.4 726.8,1266.3 728.3,1266.1 729.8,1266.0 731.3,1265.9 732.8,1265.7 734.3,1265.6 735.8,1265.4 737.2,1265.3 738.7,1265.1 740.2,1265.0 741.7,1264.8 743.2,1264.7 744.7,1264.5 746.2,1264.3 747.7,1264.2 749.2,1264.0 750.7,1263.9 752.2,1263.7 753.7,1263.5 755.2,1263.4 756.7,1263.2 758.2,1263.1 759.7,1262.9 761.1,1262.7 762.6,1262.6 764.1,1262.4 765.6,1262.2 767.1,1262.0 768.6,1261.9 770.1,1261.7 771.6,1261.5 773.1,1261.4 774.6,1261.2 776.1,1261.0 777.6,1260.8 779.0,1260.6 780.5,1260.5 782.0,1260.3 783.5,1260.1 785.0,1259.9 786.5,1259.7 788.0,1259.5 789.5,1259.3 791.0,1259.1 792.5,1258.9 793.9,1258.7 795.4,1258.6 796.9,1258.4 798.4,1258.2 799.9,1258.0 801.4,1257.8 802.9,1257.6 804.4,1257.3 805.9,1257.1 807.3,1256.9 808.8,1256.7 810.3,1256.5 811.8,1256.3 813.3,1256.1 814.8,1255.9 816.3,1255.7 817.7,1255.4 819.2,1255.2 820.7,1255.0 822.2,1254.8 823.7,1254.5 825.2,1254.3 826.7,1254.1 828.1,1253.9 829.6,1253.6 831.1,1253.4 832.6,1253.1 834.1,1252.9 835.6,1252.7 837.0,1252.4 838.5,1252.2 840.0,1251.9 841.5,1251.7 843.0,1251.4 844.4,1251.2 845.9,1250.9 847.4,1250.7 848.9,1250.4 850.4,1250.2 851.8,1249.9 853.3,1249.7 854.8,1249.4 856.3,1249.1 857.8,1248.9 859.2,1248.6 860.7,1248.3 862.2,1248.0 863.7,1247.8 865.1,1247.5 866.6,1247.2 868.1,1246.9 869.6,1246.6 871.0,1246.4 872.5,1246.1 874.0,1245.8 875.5,1245.5 876.9,1245.2 878.4,1244.9 879.9,1244.6 881.4,1244.3 882.8,1244.0 884.3,1243.8 885.8,1243.5 887.3,1243.2 888.7,1242.9 890.2,1242.7 891.7,1242.4 893.2,1242.1 894.7,1241.9 896.1,1241.6 897.6,1241.4 899.1,1241.1 900.6,1240.9 902.1,1240.7 903.6,1240.5 905.0,1240.2 906.5,1240.0 908.0,1239.8 909.5,1239.5 911.0,1239.2 912.4,1238.9 913.9,1238.6 915.4,1238.3 916.8,1238.0 918.3,1237.6 919.7,1237.2 921.2,1236.7 922.6,1236.2 924.0,1235.7 925.4,1235.1 926.8,1234.5 928.1,1233.9 929.5,1233.2 930.8,1232.5 932.0,1231.7 933.3,1230.8 934.4,1229.9 935.6,1228.9 936.6,1227.8 937.6,1226.7 938.5,1225.5 939.4,1224.2 940.1,1222.9 940.7,1221.6 941.2,1220.1 941.7,1218.7 942.1,1217.3 942.5,1215.8 942.9,1214.4 943.3,1212.9 943.7,1211.5 944.1,1210.1 944.5,1208.6 945.0,1207.2 945.4,1205.7 945.8,1204.3 946.2,1202.8 946.6,1201.4 947.0,1199.9 947.4,1198.5 947.8,1197.0 948.2,1195.6 948.6,1194.1 949.0,1192.7 949.3,1191.2 949.7,1189.8 950.0,1188.3 950.4,1186.8 950.7,1185.4 951.1,1183.9 951.4,1182.5 951.7,1181.0 952.1,1179.5 952.4,1178.1 952.7,1176.6 953.0,1175.1 953.3,1173.7 953.6,1172.2 953.9,1170.7 954.2,1169.2 954.5,1167.8 954.8,1166.3 955.1,1164.8 955.4,1163.3 955.7,1161.9 955.9,1160.4 956.2,1158.9 956.5,1157.4 956.8,1156.0 957.0,1154.5 957.3,1153.0 957.6,1151.5 957.8,1150.0 958.1,1148.6 958.3,1147.1 958.6,1145.6 958.8,1144.1 959.1,1142.6 959.3,1141.2 959.6,1139.7 959.8,1138.2 960.0,1136.7 960.3,1135.2 960.5,1133.7 960.7,1132.3 961.0,1130.8 961.2,1129.3 961.4,1127.8 961.6,1126.3 961.9,1124.8 962.1,1123.4 962.3,1121.9 962.5,1120.4 962.7,1118.9 962.9,1117.4 963.2,1115.9 963.4,1114.4 963.6,1112.9 963.8,1111.5 964.0,1110.0 964.2,1108.5 964.4,1107.0 964.6,1105.5 964.8,1104.0 965.0,1102.5 965.2,1101.0 965.4,1099.5 965.6,1098.1 965.8,1096.6 965.9,1095.1 966.1,1093.6 966.3,1092.1 966.5,1090.6 966.7,1089.1 966.9,1087.6 967.1,1086.1 967.2,1084.6 967.4,1083.2 967.6,1081.7 967.8,1080.2 968.0,1078.7 968.2,1077.2 968.3,1075.7 968.5,1074.2 968.7,1072.7 968.9,1071.2 969.0,1069.7 969.2,1068.2 969.4,1066.7 969.6,1065.3 969.7,1063.8 969.9,1062.3 970.1,1060.8 970.3,1059.3 970.4,1057.8 970.6,1056.3 970.8,1054.8 970.9,1053.3 971.1,1051.8 971.3,1050.3 971.5,1048.8 971.6,1047.4 971.8,1045.9 972.0,1044.4 972.1,1042.9 972.3,1041.4 972.5,1039.9 972.7,1038.4 972.8,1036.9 973.0,1035.4 973.2,1033.9 973.3,1032.4 973.5,1030.9 973.7,1029.4 973.9,1028.0 974.0,1026.5 974.2,1025.0 974.4,1023.5 974.6,1022.0 974.7,1020.5 974.9,1019.0 975.1,1017.5 975.3,1016.0 975.4,1014.5 975.6,1013.0 975.8,1011.5 976.0,1010.1 976.2,1008.6 976.3,1007.1 976.5,1005.6 976.7,1004.1 976.9,1002.6 977.1,1001.1 977.2,999.6 977.4,998.1 977.6,996.6 977.8,995.1 978.0,993.7 978.2,992.2 978.4,990.7 978.6,989.2 978.8,987.7 978.9,986.2 979.1,984.7 979.3,983.2 979.5,981.7 979.7,980.3 979.9,978.8 980.1,977.3 980.3,975.8 980.5,974.3 980.7,972.8 980.9,971.3 981.2,969.8 981.4,968.3 981.6,966.9 981.8,965.4 982.0,963.9 982.2,962.4 982.4,960.9 982.6,959.4 982.9,957.9 983.1,956.5 983.3,955.0 983.5,953.5 983.7,952.0 984.0,950.5 984.2,949.0 984.4,947.5 984.7,946.1 984.9,944.6 985.1,943.1 985.4,941.6 985.6,940.1 985.9,938.6 986.1,937.2 986.3,935.7 986.6,934.2 986.8,932.7 987.1,931.2 987.4,929.8 987.6,928.3 987.9,926.8 988.1,925.3 988.4,923.8 988.7,922.4 988.9,920.9 989.2,919.4 989.5,917.9 989.7,916.5 990.0,915.0 990.3,913.5 990.6,912.0 990.9,910.6 991.1,909.1 991.4,907.6 991.7,906.1 992.0,904.7 992.3,903.2 992.6,901.7 992.9,900.2 993.2,898.8 993.5,897.3 993.8,895.8 994.1,894.4 994.4,892.9 994.8,891.4 995.1,890.0 995.4,888.5 995.7,887.0 996.1,885.6 996.5,884.1 996.9,882.7 997.3,881.2 997.8,879.8 998.4,878.4 999.1,877.1 999.8,875.8 1000.6,874.5 1001.5,873.3 1002.5,872.2 1003.6,871.1 1004.8,870.3 1006.3,869.9 1007.7,870.3 1009.0,871.0 1010.1,872.0 1011.1,873.2 1011.9,874.5 1012.6,875.8 1013.1,877.2 1013.7,878.6 1014.2,880.0 1014.7,881.4 1015.1,882.8 1015.6,884.3 1016.1,885.7 1016.6,887.1 1017.1,888.5 1017.6,890.0 1018.0,891.4 1018.5,892.8 1019.0,894.2 1019.4,895.7 1019.9,897.1 1020.3,898.5 1020.8,900.0 1021.2,901.4 1021.7,902.8 1022.1,904.3 1022.6,905.7 1023.0,907.1 1023.4,908.6 1023.9,910.0 1024.3,911.5 1024.7,912.9 1025.1,914.3 1025.6,915.8 1026.0,917.2 1026.4,918.7 1026.8,920.1 1027.2,921.6 1027.6,923.0 1028.0,924.4 1028.4,925.9 1028.8,927.3 1029.2,928.8 1029.6,930.2 1030.0,931.7 1030.4,933.1 1030.8,934.6 1031.1,936.1 1031.5,937.5 1031.9,939.0 1032.3,940.4 1032.6,941.9 1033.0,943.3 1033.4,944.8 1033.8,946.2 1034.1,947.7 1034.5,949.1 1034.8,950.6 1035.2,952.1 1035.6,953.5 1035.9,955.0 1036.3,956.4 1036.6,957.9 1037.0,959.4 1037.3,960.8 1037.7,962.3 1038.0,963.7 1038.4,965.2 1038.7,966.7 1039.1,968.1 1039.4,969.6 1039.7,971.1 1040.1,972.5 1040.4,974.0 1040.8,975.4 1041.1,976.9 1041.4,978.4 1041.8,979.8 1042.1,981.3 1042.4,982.8 1042.8,984.2 1043.1,985.7 1043.4,987.2 1043.8,988.6 1044.1,990.1 1044.4,991.6 1044.7,993.0 1045.1,994.5 1045.4,996.0 1045.7,997.4 1046.1,998.9 1046.4,1000.3 1046.7,1001.8 1047.1,1003.3 1047.4,1004.7 1047.7,1006.2 1048.0,1007.7 1048.4,1009.1 1048.7,1010.6 1049.0,1012.1 1049.4,1013.5 1049.7,1015.0 1050.0,1016.5 1050.4,1017.9 1050.7,1019.4 1051.1,1020.9 1051.4,1022.3 1051.7,1023.8 1052.1,1025.2 1052.4,1026.7 1052.8,1028.2 1053.1,1029.6 1053.4,1031.1 1053.8,1032.6 1054.1,1034.0 1054.5,1035.5 1054.8,1036.9 1055.2,1038.4 1055.5,1039.9 1055.9,1041.3 1056.3,1042.8 1056.6,1044.2 1057.0,1045.7 1057.3,1047.1 1057.7,1048.6 1058.1,1050.1 1058.4,1051.5 1058.8,1053.0 1059.2,1054.4 1059.6,1055.9 1059.9,1057.3 1060.3,1058.8 1060.7,1060.2 1061.1,1061.7 1061.5,1063.1 1061.9,1064.6 1062.3,1066.0 1062.7,1067.5 1063.1,1068.9 1063.5,1070.4 1063.9,1071.8 1064.3,1073.3 1064.7,1074.7 1065.1,1076.2 1065.5,1077.6 1066.0,1079.0 1066.4,1080.5 1066.8,1081.9 1067.2,1083.4 1067.7,1084.8 1068.1,1086.2 1068.6,1087.7 1069.0,1089.1 1069.5,1090.5 1069.9,1092.0 1070.4,1093.4 1070.8,1094.8 1071.3,1096.3 1071.8,1097.7 1072.2,1099.1 1072.7,1100.5 1073.2,1102.0 1073.7,1103.4 1074.2,1104.8 1074.7,1106.2 1075.2,1107.6 1075.7,1109.0 1076.2,1110.5 1076.7,1111.9 1077.2,1113.3 1077.8,1114.7 1078.3,1116.1 1078.8,1117.5 1079.4,1118.9 1079.9,1120.3 1080.4,1121.7 1081.0,1123.1 1081.6,1124.5 1082.1,1125.9 1082.7,1127.3 1083.3,1128.7 1083.8,1130.0 1084.4,1131.4 1085.0,1132.8 1085.6,1134.2 1086.2,1135.6 1086.8,1136.9 1087.4,1138.3 1088.1,1139.7 1088.7,1141.0 1089.3,1142.4 1090.0,1143.8 1090.6,1145.1 1091.3,1146.5 1091.9,1147.8 1092.6,1149.2 1093.3,1150.5 1094.0,1151.8 1094.7,1153.2 1095.4,1154.5 1096.1,1155.8 1096.8,1157.1 1097.5,1158.4 1098.3,1159.8 1099.0,1161.1 1099.8,1162.4 1100.5,1163.6 1101.3,1164.9 1102.1,1166.2 1102.9,1167.5 1103.7,1168.8 1104.5,1170.0 1105.3,1171.3 1106.1,1172.5 1107.0,1173.8 1107.8,1175.0 1108.7,1176.3 1109.6,1177.5 1110.4,1178.7 1111.3,1179.9 1112.2,1181.1 1113.1,1182.3 1114.1,1183.5 1115.0,1184.6 1116.0,1185.8 1116.9,1187.0 1117.9,1188.1 1118.9,1189.3 1119.9,1190.4 1120.9,1191.5 1121.9,1192.6 1122.9,1193.7 1123.9,1194.8 1125.0,1195.9 1126.0,1196.9 1127.1,1198.0 1128.2,1199.0 1129.3,1200.1 1130.4,1201.1 1131.5,1202.1 1132.6,1203.1 1133.8,1204.1 1134.9,1205.0 1136.1,1206.0 1137.2,1207.0 1138.4,1207.9 1139.6,1208.8 1140.8,1209.7 1142.0,1210.6 1143.2,1211.5 1144.4,1212.4 1145.6,1213.3 1146.8,1214.2 1148.0,1215.1 1149.3,1215.9 1150.5,1216.8 1151.8,1217.6 1153.0,1218.4 1154.3,1219.3 1155.5,1220.1 1156.8,1220.9 1158.0,1221.7 1159.3,1222.5 1160.6,1223.3 1161.8,1224.1 1163.1,1224.9 1164.4,1225.7 1165.7,1226.5 1167.0,1227.3 1168.2,1228.1 1169.5,1228.8 1170.8,1229.6 1172.1,1230.4 1173.4,1231.2 1174.7,1231.9 1176.0,1232.7 1177.3,1233.4 1178.6,1234.1 1179.9,1234.8 1181.3,1235.5 1182.6,1236.2 1184.0,1236.8 1185.4,1237.4 1186.7,1238.0 1188.1,1238.6 1189.6,1239.1 1191.0,1239.5 1192.5,1239.9 1193.9,1240.1 1195.4,1240.3 1196.9,1240.4 1198.4,1240.4 1199.9,1240.4 1201.4,1240.2 1202.9,1240.0 1204.4,1239.7 1205.8,1239.4 1207.3,1239.0 1208.7,1238.6 1210.2,1238.2 1211.6,1237.7 1213.0,1237.2 1214.4,1236.7 1215.9,1236.3 1217.3,1235.8 1218.7,1235.2 1220.1,1234.7 1221.5,1234.2 1222.9,1233.7 1224.3,1233.2 1225.7,1232.6 1227.1,1232.1 1228.5,1231.5 1229.9,1231.0 1231.3,1230.4 1232.7,1229.9 1234.1,1229.3 1235.5,1228.8 1236.9,1228.2 1238.3,1227.7 1239.7,1227.1 1241.1,1226.6 1242.5,1226.0 1243.9,1225.5 1245.3,1224.9 1246.7,1224.4 1248.1,1223.9 1249.5,1223.3 1250.9,1222.8 1252.3,1222.3 1253.8,1221.8 1255.2,1221.3 1256.6,1220.8 1258.0,1220.3 1259.4,1219.8 1260.9,1219.4 1262.3,1218.9 1263.7,1218.5 1265.2,1218.0 1266.6,1217.6 1268.0,1217.2 1269.5,1216.8 1270.9,1216.4 1272.4,1216.0 1273.9,1215.7 1275.3,1215.3 1276.8,1215.0 1278.3,1214.7 1279.7,1214.4 1281.2,1214.1 1282.7,1213.8 1284.2,1213.5 1285.6,1213.3 1287.1,1213.1 1288.6,1212.9 1290.1,1212.7 1291.6,1212.5 1293.1,1212.4 1294.6,1212.2 1296.1,1212.1 1297.6,1212.1 1299.1,1212.0 1300.6,1212.0 1302.1,1211.9 1303.6,1212.0 1305.1,1212.0 1306.6,1212.1 1308.1,1212.2 1309.6,1212.3 1311.1,1212.4 1312.6,1212.6 1314.1,1212.7 1315.6,1213.0 1317.0,1213.2 1318.5,1213.4 1320.0,1213.7 1321.5,1214.0 1322.9,1214.3 1324.4,1214.6 1325.9,1214.9 1327.3,1215.2 1328.8,1215.6 1330.3,1216.0 1331.7,1216.4 1333.2,1216.8 1334.6,1217.2 1336.0,1217.6 1337.5,1218.0 1338.9,1218.5 1340.4,1218.9 1341.8,1219.4 1343.2,1219.8 1344.6,1220.3 1346.1,1220.8 1347.5,1221.2 1348.9,1221.7 1350.3,1222.2 1351.7,1222.7 1353.2,1223.2 1354.6,1223.7 1356.0,1224.2 1357.4,1224.7 1358.8,1225.2 1360.3,1225.7 1361.7,1226.2 1363.1,1226.7 1364.5,1227.2 1365.9,1227.7 1367.4,1228.1 1368.8,1228.6 1370.2,1229.1 1371.6,1229.6 1373.1,1230.0 1374.5,1230.5 1375.9,1231.0 1377.3,1231.4 1378.8,1231.9 1380.2,1232.3 1381.6,1232.7 1383.1,1233.2 1384.5,1233.6 1386.0,1234.0 1387.4,1234.4 1388.9,1234.8 1390.3,1235.2 1391.8,1235.6 1393.2,1236.0 1394.7,1236.4 1396.1,1236.8 1397.6,1237.1 1399.0,1237.5 1400.5,1237.8 1402.0,1238.2 1403.4,1238.5 1404.9,1238.8 1406.4,1239.1 1407.8,1239.4 1409.3,1239.7 1410.8,1240.0 1412.3,1240.2 1413.8,1240.5 1415.2,1240.7 1416.7,1240.9 1418.2,1241.2 1419.7,1241.4 1421.2,1241.6 1422.7,1241.8 1424.2,1241.9 1425.7,1242.1 1427.1,1242.3 1428.6,1242.4 1430.1,1242.6 1431.6,1242.7 1433.1,1242.8 1434.6,1243.0 1436.1,1243.1 1437.6,1243.2 1439.1,1243.3 1440.6,1243.4 1442.1,1243.4 1443.6,1243.5 1445.1,1243.6 1446.6,1243.7 1448.1,1243.7 1449.6,1243.8 1451.1,1243.8 1452.6,1243.9 1454.1,1243.9 1455.6,1243.9 1457.1,1243.9 1458.6,1244.0 1460.1,1244.0 1461.6,1244.0 1463.1,1244.0 1464.6,1244.0 1466.1,1244.0 1467.6,1244.0 1469.1,1244.0 1470.6,1244.0 1472.1,1244.0 1473.7,1244.0 1475.2,1244.0 1476.7,1244.0 1478.2,1244.0 1479.7,1243.9 1481.2,1243.9 1482.7,1243.9 1484.2,1243.9 1485.7,1243.9 1487.2,1243.8 1488.7,1243.8 1490.2,1243.8 1491.7,1243.8 1493.2,1243.8 1494.7,1243.7 1496.2,1243.7 1497.7,1243.7 1499.2,1243.7 1500.7,1243.7 1502.2,1243.7 1503.7,1243.7 1505.2,1243.7 1506.7,1243.7 1508.2,1243.6 1509.7,1243.6 1511.2,1243.7 1512.7,1243.7 1514.2,1243.7 1515.7,1243.7 1517.2,1243.7 1518.7,1243.7 1520.2,1243.7 1521.7,1243.7 1523.2,1243.8 1524.7,1243.8 1526.2,1243.8 1527.7,1243.8 1529.2,1243.9 1530.7,1243.9 1532.2,1243.9 1533.7,1244.0 1535.2,1244.0 1536.7,1244.1 1538.2,1244.1 1539.7,1244.1 1541.2,1244.2 1542.7,1244.2 1544.2,1244.3 1545.7,1244.4 1547.2,1244.4 1548.7,1244.5 1550.2,1244.5 1551.7,1244.6 1553.2,1244.7 1554.7,1244.7 1556.2,1244.8 1557.7,1244.9 1559.2,1245.0 1560.7,1245.0 1562.2,1245.1 1563.7,1245.2 1565.2,1245.3 1566.7,1245.4 1568.2,1245.5 1569.7,1245.6 1571.2,1245.7 1572.7,1245.8 1574.2,1245.9 1575.7,1246.0 1577.2,1246.1 1578.7,1246.2 1580.2,1246.3 1581.7,1246.4 1583.2,1246.5 1584.7,1246.6 1586.2,1246.8 1587.7,1246.9 1589.2,1247.0 1590.7,1247.1 1592.2,1247.3 1593.7,1247.4 1595.2,1247.5 1596.7,1247.7 1598.2,1247.8 1599.7,1247.9 1601.2,1248.1 1602.7,1248.2 1604.2,1248.4 1605.7,1248.5 1607.2,1248.7 1608.6,1248.8 1610.1,1249.0 1611.6,1249.1 1613.1,1249.3 1614.6,1249.5 1616.1,1249.6 1617.6,1249.8 1619.1,1249.9 1620.6,1250.1 1622.1,1250.3 1623.6,1250.5 1625.1,1250.6 1626.6,1250.8 1628.1,1251.0 1629.5,1251.2 1631.0,1251.4 1632.5,1251.6 1634.0,1251.7 1635.5,1251.9 1637.0,1252.1 1638.5,1252.3 1640.0,1252.5 1641.5,1252.7 1643.0,1252.9 1644.4,1253.1 1645.9,1253.3 1647.4,1253.5 1648.9,1253.7 1650.4,1253.9 1651.9,1254.0 1653.4,1254.2 1654.9,1254.4 1656.4,1254.6 1657.8,1254.8 1659.3,1255.0 1660.8,1255.2 1662.3,1255.4 1663.8,1255.6 1665.3,1255.8 1666.8,1256.0 1668.3,1256.2 1669.8,1256.4 1671.2,1256.6 1672.7,1256.8 1674.2,1257.0 1675.7,1257.2 1677.2,1257.3 1678.7,1257.5 1680.2,1257.7 1681.7,1257.9 1683.2,1258.1 1684.7,1258.3 1686.2,1258.4 1687.6,1258.6 1689.1,1258.8 1690.6,1259.0 1692.1,1259.1 1693.6,1259.3 1695.1,1259.5 1696.6,1259.6 1698.1,1259.8 1699.6,1260.0 1701.1,1260.1 1702.6,1260.3 1704.1,1260.4 1705.6,1260.6 1707.1,1260.7 1708.6,1260.8 1710.0,1261.0 1711.5,1261.1 1713.0,1261.3 1714.5,1261.4 1716.0,1261.5 1717.5,1261.6 1719.0,1261.7 1720.5,1261.9 1722.0,1262.0 1723.5,1262.1 1725.0,1262.2 1726.5,1262.3 1728.0,1262.4 1729.5,1262.5 1731.0,1262.5 1732.5,1262.6 1734.0,1262.7 1735.5,1262.8 1737.0,1262.8 1738.5,1262.9 1740.0,1262.9 1741.5,1263.0 1743.0,1263.0 1744.5,1263.1 1746.0,1263.1 1747.5,1263.1 1749.0,1263.2 1750.5,1263.2 1752.0,1263.2 1753.5,1263.2 1755.0,1263.2 1756.5,1263.2 1758.0,1263.2 1759.5,1263.1 1761.0,1263.1 1762.5,1263.1 1764.0,1263.0 1765.5,1263.0 1767.0,1262.9 1768.5,1262.9 1770.1,1262.8 1771.6,1262.7 1773.0,1262.6 1774.5,1262.5 1776.0,1262.4 1777.5,1262.3 1779.0,1262.2 1780.5,1262.1 1782.0,1262.0 1783.5,1261.8 1785.0,1261.7 1786.5,1261.5 1788.0,1261.3 1789.5,1261.2 1791.0,1261.0 1792.5,1260.8 1794.0,1260.6 1795.5,1260.4 1796.9,1260.2 1798.4,1259.9 1799.9,1259.7 1801.4,1259.5 1802.9,1259.2 1804.4,1258.9 1805.8,1258.7 1807.3,1258.4 1808.8,1258.1 1810.3,1257.8 1811.7,1257.5 1813.2,1257.2 1814.7,1256.8 1816.1,1256.5 1817.6,1256.1 1819.0,1255.8 1820.5,1255.4 1821.9,1255.0 1823.4,1254.6 1824.8,1254.2 1826.3,1253.8 1827.7,1253.4 1829.2,1253.0 1830.6,1252.5 1832.0,1252.1 1833.5,1251.6 1834.9,1251.2 1836.3,1250.7 1837.8,1250.2 1839.2,1249.7 1840.6,1249.3 1842.0,1248.8 1843.4,1248.3 1844.8,1247.8 1846.3,1247.3 1847.7,1246.8 1849.1,1246.2 1850.5,1245.7 1851.9,1245.2 1853.3,1244.7 1854.7,1244.1 1856.1,1243.6 1857.5,1243.1 1858.9,1242.6 1860.3,1242.0 1861.7,1241.5 1863.1,1240.9 1864.5,1240.4 1865.9,1239.9 1867.3,1239.3 1868.7,1238.8 1870.1,1238.2 1871.6,1237.7 1873.0,1237.2 1874.4,1236.6 1875.8,1236.1 1877.2,1235.6 1878.6,1235.0 1880.0,1234.5 1881.4,1234.0 1882.8,1233.5 1884.2,1233.0 1885.6,1232.4 1887.0,1231.9 1888.4,1231.4 1889.9,1230.9 1891.3,1230.4 1892.7,1229.9 1894.1,1229.5 1895.5,1229.0 1897.0,1228.5 1898.4,1228.0 1899.8,1227.6 1901.3,1227.1 1902.7,1226.7 1904.1,1226.2 1905.6,1225.8 1907.0,1225.4 1908.5,1225.0 1909.9,1224.6 1911.4,1224.2 1912.8,1223.8 1914.3,1223.5 1915.7,1223.1 1917.2,1222.8 1918.7,1222.4 1920.1,1222.1 1921.6,1221.8 1923.1,1221.5 1924.5,1221.2 1926.0,1221.0 1927.5,1220.7 1929.0,1220.5 1930.5,1220.2 1932.0,1220.0 1933.4,1219.8 1934.9,1219.7 1936.4,1219.5 1937.9,1219.4" stroke="#0000ff" stroke-width="10" fill="none" stroke-linejoin="round"/>
<line x1="868.5" y1="169" x2="1018.5" y2="169" stroke="#0000ff" stroke-width="9" stroke-linecap="round"/>
<line x1="868.5" y1="292.5" x2="1018.5" y2="292.5" stroke="#ff0000" stroke-width="9" stroke-linecap="round"/>
<line x1="300.7" y1="1000" x2="300.7" y2="1100" stroke="#000" stroke-width="9"/>
<path d="M284,1096 L318,1096 L301,1157 Z" fill="#000"/>
<g font-size="80"><text x="237.75" y="1535.0" text-anchor="middle">50</text><text x="450.94" y="1535.0" text-anchor="middle">75</text><text x="664.14" y="1535.0" text-anchor="middle">100</text><text x="877.33" y="1535.0" text-anchor="middle">125</text><text x="1090.53" y="1535.0" text-anchor="middle">150</text><text x="1303.72" y="1535.0" text-anchor="middle">175</text><text x="1516.91" y="1535.0" text-anchor="middle">200</text><text x="1730.11" y="1535.0" text-anchor="middle">225</text><text x="1943.30" y="1535.0" text-anchor="middle">250</text></g>
<g transform="translate(742.00,1677.00) scale(0.9930,1)"><text x="0" y="0" font-size="92">Temperature (<tspan class="dg" font-size="92" dy="16.5" dx="0">°</tspan><tspan dy="-16.5">C)</tspan></text></g>
<text transform="translate(106.00,1137.00) rotate(-90)" font-size="90.0">Heat Flow (a.u.)</text>
<g transform="translate(1036.00,191.50) scale(0.9750,1)"><text x="0" y="0" font-size="80">As-milled LiAlH<tspan font-size="47" dy="31">4</tspan></text></g>
<g transform="translate(1037.40,313.90) scale(0.9836,1)"><text x="0" y="0" font-size="80">LiAlH<tspan font-size="47" dy="31">4</tspan><tspan dy="-31"> + 10 wt.% CoTiO</tspan><tspan font-size="47" dy="31">3</tspan></text></g>
<g transform="translate(640.00,374.30) scale(1.0000,1)"><text x="0" y="0" font-size="66">105<tspan class="dg" font-size="72" dy="13" dx="0">°</tspan><tspan dy="-13" dx="0">C</tspan></text></g>
<g transform="translate(922.00,795.80) scale(1.0000,1)"><text x="0" y="0" font-size="66">140<tspan class="dg" font-size="72" dy="13" dx="0">°</tspan><tspan dy="-13" dx="0">C</tspan></text></g>
<g transform="translate(1390.00,773.60) scale(1.0000,1)"><text x="0" y="0" font-size="66">196<tspan class="dg" font-size="72" dy="13" dx="0">°</tspan><tspan dy="-13" dx="0">C</tspan></text></g>
<g transform="translate(1220.00,1103.50) scale(1.0000,1)"><text x="0" y="0" font-size="66">175<tspan class="dg" font-size="72" dy="13" dx="0">°</tspan><tspan dy="-13" dx="0">C</tspan></text></g>
<g transform="translate(1106.00,1346.60) scale(1.0000,1)"><text x="0" y="0" font-size="66">163<tspan class="dg" font-size="72" dy="13" dx="0">°</tspan><tspan dy="-13" dx="0">C</tspan></text></g>
<g transform="translate(1684.00,1355.90) scale(1.0000,1)"><text x="0" y="0" font-size="66">230<tspan class="dg" font-size="72" dy="13" dx="0">°</tspan><tspan dy="-13" dx="0">C</tspan></text></g>
<g transform="translate(333.60,1096.00) scale(0.9900,1)"><text x="0" y="0" font-size="79">Endothermic</text></g>
</svg>
</body></html>
